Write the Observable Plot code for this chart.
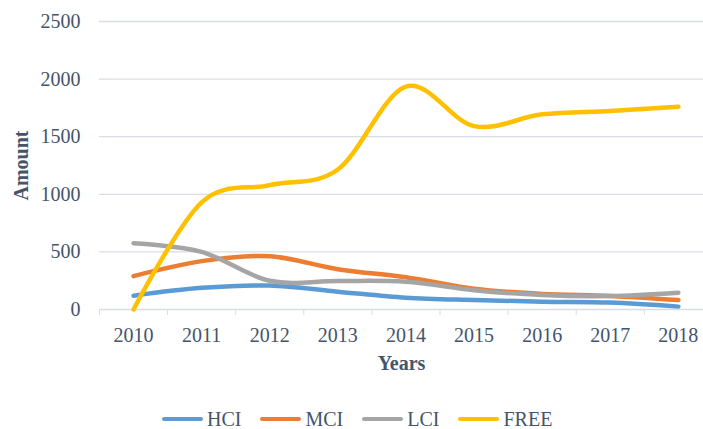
<!DOCTYPE html>
<html>
<head>
<meta charset="utf-8">
<script src="https://cdn.jsdelivr.net/npm/d3@7"></script>
<script src="https://cdn.jsdelivr.net/npm/@observablehq/plot@0.6"></script>
<style>
  html, body { margin: 0; padding: 0; background: #fff; }
  body { width: 703px; height: 429px; overflow: hidden; font-family: "Liberation Serif", "Times New Roman", serif; }
  #legend { display: flex; align-items: center; margin-left: 162px; gap: 19px; height: 22px; margin-top: 8px; color: #44546a; font-size: 20px; }
  .item { display: flex; align-items: center; gap: 4px; }
  .sw { width: 41px; height: 4px; border-radius: 2px; }
</style>
</head>
<body>
<div id="chart"></div>
<div id="legend"></div>
<script>
const years = [2010, 2011, 2012, 2013, 2014, 2015, 2016, 2017, 2018];
const seriesNames = ["HCI", "MCI", "LCI", "FREE"];
const seriesColors = ["#5b9bd5", "#ed7d31", "#a5a5a5", "#ffc000"];
const hci  = [120, 188, 208, 155, 102, 82, 68, 60, 25];
const mci  = [290, 420, 463, 350, 280, 180, 135, 118, 82];
const lci  = [575, 500, 249, 248, 241, 168, 126, 117, 146];
const free = [0, 930, 1080, 1215, 1935, 1592, 1694, 1723, 1761];
const yTicks = [0, 500, 1000, 1500, 2000, 2500];

const valuesBySeries = [hci, mci, lci, free];
const rows = [];
seriesNames.forEach((s, i) => years.forEach((yr, j) => rows.push({series: s, year: yr, value: valuesBySeries[i][j]})));
const boundaries = years.map(y => y - 0.5);

const textColor = "#44546a";
const gridColor = "#d9dde3";

const chart = Plot.plot({
  width: 703,
  height: 400,
  marginLeft: 99,
  marginRight: 0,
  marginTop: 21,
  marginBottom: 91,
  style: {fontFamily: "'Liberation Serif', 'Times New Roman', serif", fontSize: "20px", color: textColor, background: "white"},
  x: {type: "linear", domain: [2009.5, 2018.369]},
  y: {domain: [0, 2500]},
  color: {domain: seriesNames, range: seriesColors},
  marks: [
    Plot.ruleY(yTicks, {stroke: gridColor, strokeWidth: 1.3}),
    Plot.axisY({ticks: yTicks, tickSize: 0, tickPadding: 19, tickFormat: d => String(d), label: null, fill: textColor}),
    Plot.axisX({ticks: boundaries, tickSize: 6, tickFormat: () => "", stroke: gridColor, label: null}),
    Plot.axisX({ticks: years, tickSize: 0, tickPadding: 18, tickFormat: d => String(d), label: null, fill: textColor}),
    Plot.line(rows, {x: "year", y: "value", z: "series", stroke: "series", strokeWidth: 4.5, curve: "cardinal", strokeLinecap: "round", strokeLinejoin: "round"}),
    Plot.text(["Years"], {frameAnchor: "bottom", dy: 60, text: d => d, fontWeight: "bold", fill: textColor, fontSize: 20}),
    Plot.text(["Amount"], {frameAnchor: "left", dx: -78, rotate: -90, textAnchor: "middle", text: d => d, fontWeight: "bold", fill: textColor, fontSize: 20})
  ]
});
document.getElementById("chart").appendChild(chart);

const legend = d3.select("#legend");
seriesNames.forEach((s, i) => {
  const it = legend.append("div").attr("class", "item");
  it.append("div").attr("class", "sw").style("background", seriesColors[i]);
  it.append("span").text(s);
});
</script>
</body>
</html>
